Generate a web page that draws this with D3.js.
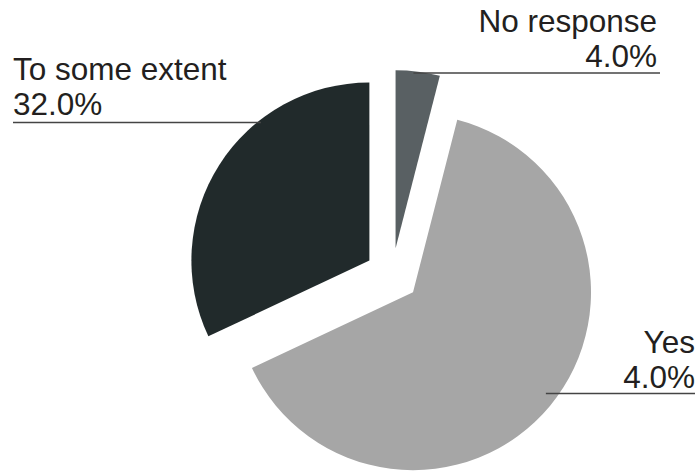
<!DOCTYPE html>
<html>
<head>
<meta charset="utf-8">
<script src="https://cdn.jsdelivr.net/npm/d3@7/dist/d3.min.js"></script>
<style>
  html, body { margin: 0; padding: 0; background: #ffffff; }
  svg { display: block; }
</style>
</head>
<body>
<svg id="chart" width="700" height="471"></svg>
<script>
// ---- data ----
const categories = ["No response", "Yes", "To some extent"];
const values = [4, 64, 32];
const valueLabels = ["4.0%", "4.0%", "32.0%"];
const colors = ["#596063", "#a6a6a6", "#212a2b"];

// ---- layout ----
const W = 700, H = 471;
const cx = 392.2, cy = 275, radius = 178, explode = 27;
const fontSize = 31.5;
const textColor = "#231f20";
// label layout: anchor side, text x, first baseline, line y, line outer x, leader inset into slice
const labelLayout = [
  { anchor: "end",   x: 657, y: 32,  lineY: 73,    lineX: 660, inset: 13.5 },
  { anchor: "end",   x: 695, y: 353, lineY: 393.5, lineX: 695, inset: 13.5 },
  { anchor: "start", x: 13,  y: 80,  lineY: 122.5, lineX: 13,  inset: 4 }
];

const svg = d3.select("#chart");
const pie = d3.pie().sort(null).startAngle(0).endAngle(2 * Math.PI);
const arcs = pie(values);
const arc = d3.arc().innerRadius(0).outerRadius(radius);

function offsetOf(d) {
  const a = (d.startAngle + d.endAngle) / 2;
  return [cx + explode * Math.sin(a), cy - explode * Math.cos(a)];
}

svg.append("g").selectAll("path")
  .data(arcs)
  .join("path")
  .attr("transform", d => { const o = offsetOf(d); return `translate(${o[0]},${o[1]})`; })
  .attr("d", arc)
  .attr("fill", (d, i) => colors[i]);

// leader lines: horizontal, from where the label line meets the slice arc (slightly inside) to the label
svg.append("g").selectAll("line")
  .data(arcs)
  .join("line")
  .attr("x1", (d, i) => {
    const L = labelLayout[i];
    const o = offsetOf(d);
    const dy = L.lineY - o[1];
    const dx = Math.sqrt(Math.max(0, radius * radius - dy * dy));
    const side = L.anchor === "end" ? 1 : -1;
    return o[0] + side * (dx - L.inset);
  })
  .attr("x2", (d, i) => labelLayout[i].lineX)
  .attr("y1", (d, i) => labelLayout[i].lineY)
  .attr("y2", (d, i) => labelLayout[i].lineY)
  .attr("stroke", "#444444")
  .attr("stroke-width", 1.3);

// labels
const lg = svg.append("g")
  .attr("font-family", "'Liberation Sans', Arial, Helvetica, sans-serif")
  .attr("font-size", fontSize)
  .attr("fill", textColor);

categories.forEach((c, i) => {
  const L = labelLayout[i];
  const t = lg.append("text")
    .attr("text-anchor", L.anchor);
  t.append("tspan").attr("x", L.x).attr("y", L.y).text(c);
  t.append("tspan").attr("x", L.x).attr("y", L.y + 35).text(valueLabels[i]);
});
</script>
</body>
</html>
